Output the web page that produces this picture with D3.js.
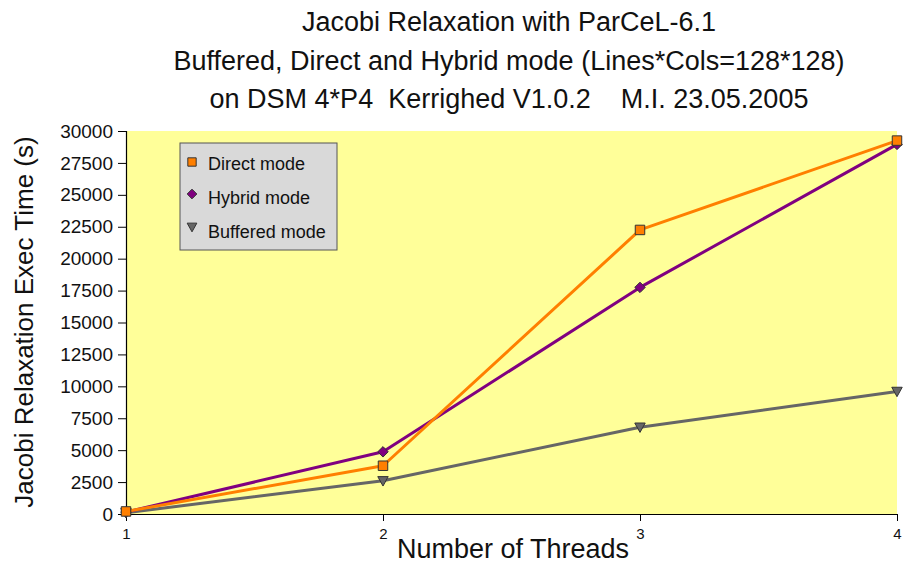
<!DOCTYPE html>
<html>
<head>
<meta charset="utf-8">
<script src="https://cdn.jsdelivr.net/npm/d3@7"></script>
<style>
  html, body { margin: 0; padding: 0; background: #ffffff; }
  svg { display: block; font-family: "Liberation Sans", Arial, sans-serif; }
  text { white-space: pre; }
</style>
</head>
<body>
<svg id="chart" width="905" height="573"></svg>
<script>
// Number of threads (x categories)
const threads = [1, 2, 3, 4];
// Execution times in seconds per mode
const directMode = [200, 3780, 22250, 29250];
const hybridMode = [150, 4870, 17750, 28950];
const bufferedMode = [100, 2600, 6800, 9600];
// Y-axis tick values
const yTicks = [0, 2500, 5000, 7500, 10000, 12500, 15000, 17500, 20000, 22500, 25000, 27500, 30000];

const titleLines = [
  "Jacobi Relaxation with ParCeL-6.1",
  "Buffered, Direct and Hybrid mode (Lines*Cols=128*128)",
  "on DSM 4*P4  Kerrighed V1.0.2    M.I. 23.05.2005"
];

const series = [
  { name: "Direct mode", values: directMode, color: "#ff7f00", shape: "square" },
  { name: "Hybrid mode", values: hybridMode, color: "#800080", shape: "diamond" },
  { name: "Buffered mode", values: bufferedMode, color: "#666666", shape: "triangle" }
];

const svg = d3.select("#chart");
const plot = { left: 126, right: 897, top: 131, bottom: 514 };

const x = d3.scaleLinear().domain([1, 4]).range([plot.left, plot.right]);
const y = d3.scaleLinear().domain([0, 30000]).range([plot.bottom, plot.top]);

// Titles
svg.append("g").selectAll("text").data(titleLines).join("text")
  .attr("x", 509).attr("y", (d, i) => 31 + i * 38.5)
  .attr("text-anchor", "middle")
  .attr("font-size", 27).attr("fill", "#111")
  .text(d => d);

// Plot background
svg.append("rect")
  .attr("x", plot.left).attr("y", plot.top)
  .attr("width", plot.right - plot.left).attr("height", plot.bottom - plot.top)
  .attr("fill", "#ffff99");

// Y axis
const yAxis = svg.append("g")
  .attr("transform", `translate(${plot.left},0)`)
  .call(d3.axisLeft(y).tickValues(yTicks).tickSize(8).tickPadding(5).tickFormat(d3.format("d")));
yAxis.select(".domain").attr("stroke", "#000").attr("stroke-width", 1.2);
yAxis.selectAll(".tick line").attr("stroke", "#000");
yAxis.selectAll(".tick text").attr("font-size", 19).attr("fill", "#111")
  .attr("font-family", "Liberation Sans, Arial, sans-serif");

// X axis
const xAxis = svg.append("g")
  .attr("transform", `translate(0,${plot.bottom})`)
  .call(d3.axisBottom(x).tickValues(threads).tickSize(7).tickSizeOuter(0).tickFormat(d3.format("d")));
xAxis.select(".domain").attr("stroke", "#000").attr("stroke-width", 1.2);
xAxis.selectAll(".tick line").attr("stroke", "#000");
xAxis.selectAll(".tick text")
  .attr("y", 25).attr("dy", null)
  .attr("font-size", 15).attr("fill", "#111")
  .attr("font-family", "Liberation Sans, Arial, sans-serif");

// Axis titles
svg.append("text")
  .attr("x", 513).attr("y", 558)
  .attr("text-anchor", "middle").attr("font-size", 27).attr("fill", "#111")
  .text("Number of Threads");
svg.append("text")
  .attr("transform", "translate(33,322) rotate(-90)")
  .attr("text-anchor", "middle").attr("font-size", 26).attr("fill", "#111")
  .text("Jacobi Relaxation Exec Time (s)");

// Marker symbol generator
function symbolPath(shape, size) {
  if (shape === "square") return d3.symbol(d3.symbolSquare, size)();
  const r = Math.sqrt(size) / 1.6;
  if (shape === "diamond") return `M0,${-r}L${r},0L0,${r}L${-r},0Z`;
  return `M${-r},${-r * 0.8}L${r},${-r * 0.8}L0,${r}Z`;
}

const line = d3.line().x((d, i) => x(threads[i])).y(d => y(d));

// Lines drawn bottom series first
[...series].reverse().forEach(s => {
  svg.append("path").datum(s.values)
    .attr("d", line)
    .attr("fill", "none").attr("stroke", s.color).attr("stroke-width", 3)
    .attr("stroke-linejoin", "round");
});
[...series].reverse().forEach(s => {
  svg.append("g").selectAll("path").data(s.values).join("path")
    .attr("transform", (d, i) => `translate(${x(threads[i])},${y(d)})`)
    .attr("d", symbolPath(s.shape, s.shape === "square" ? 90 : 70))
    .attr("fill", s.color)
    .attr("stroke", "#333").attr("stroke-width", 1);
});

// Legend
const legend = svg.append("g").attr("transform", "translate(180,143)");
legend.append("rect")
  .attr("width", 157).attr("height", 107)
  .attr("fill", "#d9d9d9").attr("stroke", "#555").attr("stroke-width", 1);
const legendRows = [
  { marker: 19, text: 27 },
  { marker: 51, text: 61 },
  { marker: 84, text: 95 }
];
series.forEach((s, i) => {
  legend.append("path")
    .attr("transform", `translate(12,${legendRows[i].marker})`)
    .attr("d", symbolPath(s.shape, s.shape === "square" ? 70 : 60))
    .attr("fill", s.color).attr("stroke", "#333").attr("stroke-width", 1);
  legend.append("text")
    .attr("x", 28).attr("y", legendRows[i].text)
    .attr("font-size", 18).attr("fill", "#111")
    .text(s.name);
});
</script>
</body>
</html>
